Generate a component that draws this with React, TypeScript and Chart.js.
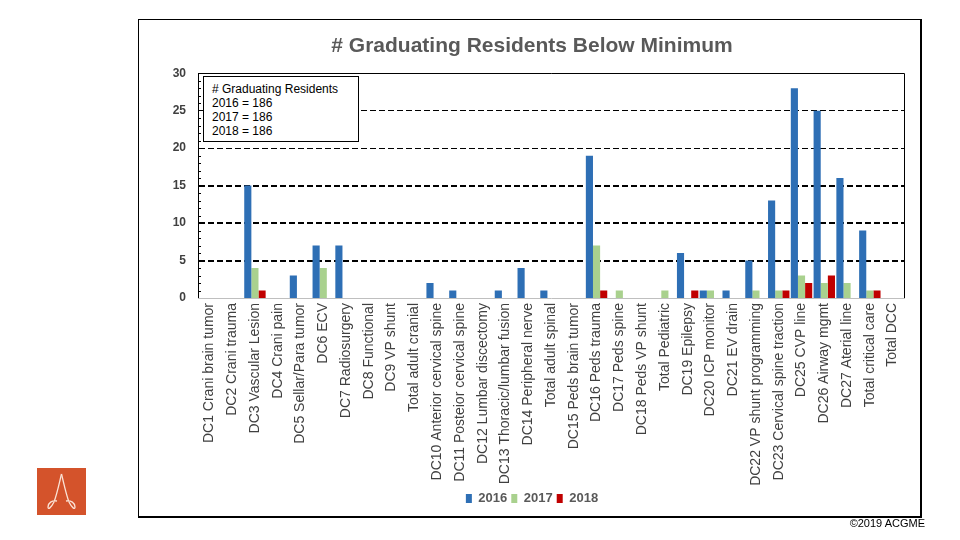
import React, { useEffect, useRef } from "react";
import { Chart, registerables } from "chart.js";

Chart.register(...registerables);

const categories = [
  "DC1 Crani brain tumor",
  "DC2 Crani trauma",
  "DC3 Vascular Lesion",
  "DC4 Crani pain",
  "DC5 Sellar/Para tumor",
  "DC6 ECV",
  "DC7 Radiosurgery",
  "DC8 Functional",
  "DC9 VP shunt",
  "Total adult cranial",
  "DC10 Anterior cervical spine",
  "DC11 Posteior cervical spine",
  "DC12 Lumbar discectomy",
  "DC13 Thoracic/lumbar fusion",
  "DC14 Peripheral nerve",
  "Total adult spinal",
  "DC15 Peds brain tumor",
  "DC16 Peds trauma",
  "DC17 Peds spine",
  "DC18 Peds VP shunt",
  "Total Pediatric",
  "DC19 Epilepsy",
  "DC20 ICP monitor",
  "DC21 EV drain",
  "DC22 VP shunt programming",
  "DC23 Cervical spine traction",
  "DC25 CVP line",
  "DC26 Airway mgmt",
  "DC27 Aterial line",
  "Total critical care",
  "Total DCC",
];

const values2016 = [0, 0, 15, 0, 3, 7, 7, 0, 0, 0, 2, 1, 0, 1, 4, 1, 0, 19, 0, 0, 0, 6, 1, 1, 5, 13, 28, 25, 16, 9, 0];
const values2017 = [0, 0, 4, 0, 0, 4, 0, 0, 0, 0, 0, 0, 0, 0, 0, 0, 0, 7, 1, 0, 1, 0, 1, 0, 1, 1, 3, 2, 2, 1, 0];
const values2018 = [0, 0, 1, 0, 0, 0, 0, 0, 0, 0, 0, 0, 0, 0, 0, 0, 0, 1, 0, 0, 0, 1, 0, 0, 0, 1, 2, 3, 0, 1, 0];

const seriesLabels = ["2016", "2017", "2018"];
const seriesColors = ["#2E6FB5", "#A9D18E", "#C00000"];

const yMin = 0;
const yMax = 30;
const yStep = 5;
const yMinorStep = 1;
const thickGridValues = [5, 10, 15];
const thinGridValues = [20, 25];

const titleText = "# Graduating Residents Below Minimum";
const boxLines = ["# Graduating Residents", "2016 = 186", "2017 = 186", "2018 = 186"];
const copyrightText = "\u00a92019 ACGME";

const FONT = "'Liberation Sans', Arial, Helvetica, sans-serif";

const plotFrame = {
  id: "plotFrame",
  afterDatasetsDraw(chart: any) {
    const { ctx, chartArea } = chart;
    const { left, right, top, bottom } = chartArea;
    ctx.save();
    ctx.strokeStyle = "#000";
    ctx.lineWidth = 1;
    ctx.setLineDash([]);
    ctx.beginPath();
    ctx.moveTo(left, Math.round(top) + 0.5);
    ctx.lineTo(Math.round(right) + 0.5, Math.round(top) + 0.5);
    ctx.lineTo(Math.round(right) + 0.5, bottom);
    ctx.stroke();
    // minor ticks on the value axis (inside the plot)
    const ys = chart.scales.y;
    ctx.beginPath();
    for (let v = yMin; v <= yMax; v += yMinorStep) {
      if (v % yStep === 0) continue;
      const py = Math.round(ys.getPixelForValue(v)) + 0.5;
      ctx.moveTo(left, py);
      ctx.lineTo(left + 3, py);
    }
    ctx.stroke();
    ctx.restore();
  },
};

function BarChart() {
  const ref = useRef<HTMLCanvasElement | null>(null);
  useEffect(() => {
    if (!ref.current) return;
    Chart.defaults.font.family = FONT;
    const chart = new Chart(ref.current, {
      type: "bar",
      data: {
        labels: categories,
        datasets: [values2016, values2017, values2018].map((d, i) => ({
          label: seriesLabels[i],
          data: d,
          backgroundColor: seriesColors[i],
          borderWidth: 0,
          categoryPercentage: 0.94,
          barPercentage: 1,
        })),
      },
      options: {
        animation: false,
        responsive: false,
        maintainAspectRatio: false,
        layout: { padding: { left: 160, right: 56, top: 34, bottom: 25 } },
        plugins: {
          title: {
            display: true,
            text: titleText,
            color: "#595959",
            font: { size: 21, weight: "bold", family: FONT },
            padding: { top: 0, bottom: 14 },
          },
          legend: {
            display: true,
            position: "bottom",
            labels: {
              boxWidth: 6,
              boxHeight: 9,
              color: "#595959",
              padding: 4,
              font: { size: 13, weight: "bold", family: FONT },
            },
          },
          tooltip: { enabled: false },
        },
        scales: {
          x: {
            grid: { display: false, drawTicks: false },
            border: { display: true, color: "#BFBFBF", width: 1 },
            ticks: {
              autoSkip: false,
              maxRotation: 90,
              minRotation: 90,
              padding: 5,
              color: "#404040",
              font: { size: 14, family: FONT },
            },
            afterFit: (s: any) => {
              s.height = 190;
            },
          },
          y: {
            min: yMin,
            max: yMax,
            ticks: {
              stepSize: yStep,
              padding: 12,
              color: "#404040",
              font: { size: 12, weight: "bold", family: FONT },
            },
            grid: {
              drawTicks: false,
              color: "#000",
              lineWidth: (c: any) => {
                const v = c.tick ? c.tick.value : null;
                if (thickGridValues.includes(v)) return 2;
                if (thinGridValues.includes(v)) return 1;
                return 0;
              },
            },
            border: { display: true, color: "#000", width: 1, dash: [6, 3] },
            afterFit: (s: any) => {
              s.width = 38;
            },
          },
        },
      },
      plugins: [plotFrame],
    } as any);
    return () => chart.destroy();
  }, []);
  return <canvas ref={ref} width={960} height={540} style={{ position: "absolute", left: 0, top: 0 }} />;
}

export default function App() {
  return (
    <div style={{ position: "absolute", left: 0, top: 0, width: 960, height: 540, background: "#fff", overflow: "hidden" }}>
      <div
        style={{
          position: "absolute",
          left: 138,
          top: 19,
          width: 781,
          height: 496,
          borderLeft: "1px solid #000",
          borderTop: "1px solid #000",
          borderRight: "2px solid #000",
          borderBottom: "2px solid #000",
        }}
      />
      <BarChart />
      <div
        style={{
          position: "absolute",
          left: 203,
          top: 76,
          width: 146,
          height: 59,
          border: "1px solid #000",
          background: "#fff",
          paddingLeft: 8,
          paddingTop: 5,
          fontFamily: FONT,
          fontSize: 12,
          lineHeight: "14px",
          color: "#000",
          whiteSpace: "nowrap",
        }}
      >
        {boxLines.map((t, i) => (
          <div key={i}>{t}</div>
        ))}
      </div>
      <svg width={49} height={47} style={{ position: "absolute", left: 37, top: 468 }} viewBox="0 0 49 47">
        <rect x={0} y={0} width={49} height={47} fill="#D4532B" />
        <path d="M24.5 6 C22 16 20 26 17 34 C14 40 11 42 11 39 C11 35 15 32 20 33" stroke="#FBE3D6" strokeWidth={1.3} fill="none" />
        <path d="M24.5 6 C27 16 29 26 32 34 C35 40 38 42 38 39 C38 35 34 32 29 33" stroke="#FBE3D6" strokeWidth={1.3} fill="none" />
      </svg>
      <div
        style={{
          position: "absolute",
          right: 35,
          top: 517,
          fontFamily: "'Liberation Sans Narrow', 'Liberation Sans', Arial, sans-serif",
          fontSize: 11,
          color: "#000",
        }}
      >
        {copyrightText}
      </div>
    </div>
  );
}
